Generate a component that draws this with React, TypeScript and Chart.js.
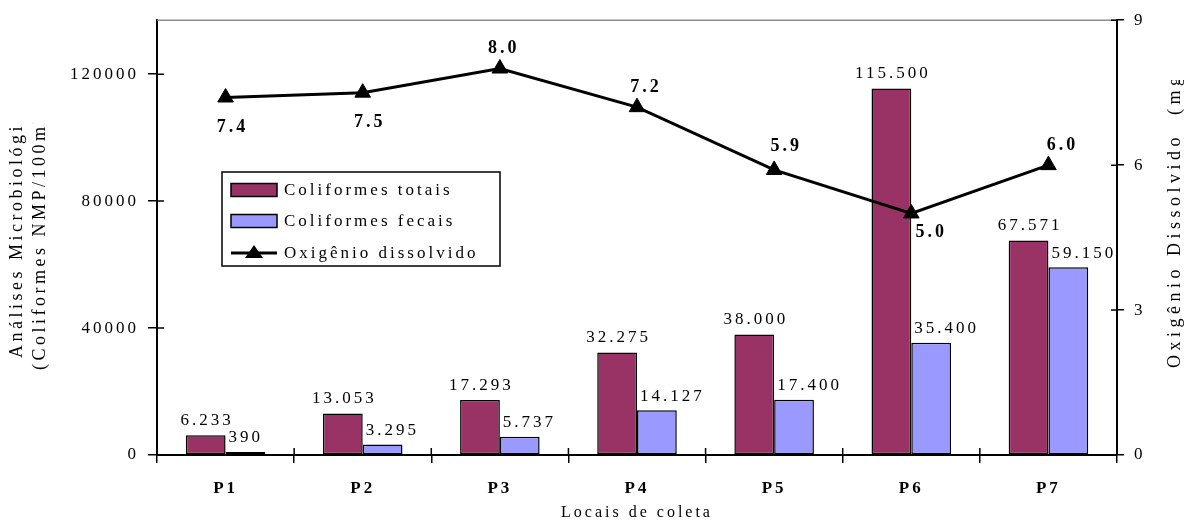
import { useEffect, useRef } from "react";
import { Chart, registerables } from "chart.js";

Chart.register(...registerables);

// ---------- data ----------
const categories = ["P1", "P2", "P3", "P4", "P5", "P6", "P7"];
const coliformesTotais = [6233, 13053, 17293, 32275, 38000, 115500, 67571];
const coliformesFecais = [390, 3295, 5737, 14127, 17400, 35400, 59150];
const oxigenioDissolvido = [7.4, 7.5, 8.0, 7.2, 5.9, 5.0, 6.0];
const leftTicks = [0, 40000, 80000, 120000];
const rightTicks = [0, 3, 6, 9];
const seriesNames = ["Coliformes totais", "Coliformes fecais", "Oxigênio dissolvido"];
const xTitle = "Locais de coleta";
const leftTitleLines = ["Análises Microbiológicas", "(Coliformes NMP/100ml)"];
const rightTitle = "Oxigênio Dissolvido  (mg/L)";

// ---------- styling ----------
const SERIF = '"Liberation Serif", "Times New Roman", serif';
const COLOR_TOTAIS = "#993366";
const COLOR_FECAIS = "#9999FF";
// label offsets for the oxygen labels (dx, dy from point)
const oxLabelOffsets: [number, number][] = [
  [7, 30], [7, 30], [4, -20], [9, -20], [12, -24], [20, 19], [14, -20],
];

const fmtThousands = (n: number) => String(n).replace(/\B(?=(\d{3})+(?!\d))/g, ".");

const decorPlugin = {
  id: "decor",
  beforeDraw(chart: any) {
    chart.ctx.letterSpacing = "3px";
  },
  afterDatasetsDraw(chart: any) {
    const ctx = chart.ctx as CanvasRenderingContext2D;
    ctx.save();
    ctx.fillStyle = "#000";
    ctx.textBaseline = "middle";
    (ctx as any).letterSpacing = "3px";
    ctx.font = `17px ${SERIF}`;
    const m0 = chart.getDatasetMeta(0);
    m0.data.forEach((bar: any, i: number) => {
      ctx.textAlign = "center";
      ctx.fillText(fmtThousands(coliformesTotais[i]), bar.x + 1.5, bar.y - 15);
    });
    const m1 = chart.getDatasetMeta(1);
    m1.data.forEach((bar: any, i: number) => {
      ctx.textAlign = "left";
      ctx.fillText(fmtThousands(coliformesFecais[i]), bar.x - bar.width / 2 + 3, bar.y - 14);
    });
    ctx.font = `bold 18px ${SERIF}`;
    const m2 = chart.getDatasetMeta(2);
    m2.data.forEach((pt: any, i: number) => {
      ctx.textAlign = "center";
      const [dx, dy] = oxLabelOffsets[i];
      ctx.fillText(oxigenioDissolvido[i].toFixed(1), pt.x + dx, pt.y + dy);
    });
    ctx.restore();
  },
  afterDraw(chart: any) {
    const ctx = chart.ctx as CanvasRenderingContext2D;
    const { left, right, top, bottom } = chart.chartArea;
    const ys = chart.scales.y;
    const y1 = chart.scales.y1;
    const xs = chart.scales.x;
    ctx.save();
    // top border
    ctx.strokeStyle = "#8c8c8c";
    ctx.lineWidth = 1.5;
    ctx.beginPath();
    ctx.moveTo(left, top);
    ctx.lineTo(right, top);
    ctx.stroke();
    // inner halves of the crossing ticks
    ctx.strokeStyle = "#000";
    ctx.lineWidth = 1.5;
    ctx.beginPath();
    leftTicks.forEach((v) => {
      const y = ys.getPixelForValue(v);
      ctx.moveTo(left, y);
      ctx.lineTo(left + 7, y);
    });
    rightTicks.forEach((v) => {
      const y = y1.getPixelForValue(v);
      ctx.moveTo(right - 6, y);
      ctx.lineTo(right, y);
    });
    const step = xs.getPixelForValue(1) - xs.getPixelForValue(0);
    for (let i = 0; i <= categories.length; i++) {
      const x = xs.getPixelForValue(i) - step / 2;
      ctx.moveTo(x, bottom);
      ctx.lineTo(x, bottom - 7);
    }
    ctx.stroke();

    // axis titles (clipped like the original text boxes)
    ctx.fillStyle = "#000";
    ctx.textBaseline = "middle";
    ctx.textAlign = "left";
    ctx.font = `18px ${SERIF}`;
    (ctx as any).letterSpacing = "3.5px";
    ctx.save();
    ctx.beginPath();
    ctx.rect(0, 123, 60, 400);
    ctx.clip();
    const leftTitleX = [17, 40];
    const leftTitleStart = [358, 370];
    leftTitleLines.forEach((t, i) => {
      ctx.save();
      ctx.translate(leftTitleX[i], leftTitleStart[i]);
      ctx.rotate(-Math.PI / 2);
      ctx.fillText(t, 0, 0);
      ctx.restore();
    });
    ctx.restore();
    ctx.save();
    ctx.beginPath();
    ctx.rect(1150, 80, 40, 400);
    ctx.clip();
    (ctx as any).letterSpacing = "4.5px";
    ctx.translate(1175, 368);
    ctx.rotate(-Math.PI / 2);
    ctx.fillText(rightTitle, 0, 0);
    ctx.restore();

    // legend
    const lx = 222, ly = 172, lw = 278, lh = 94;
    ctx.fillStyle = "#fff";
    ctx.fillRect(lx, ly, lw, lh);
    ctx.strokeStyle = "#000";
    ctx.lineWidth = 1.5;
    ctx.strokeRect(lx, ly, lw, lh);
    const rows = [190, 221, 253];
    ctx.fillStyle = COLOR_TOTAIS;
    ctx.fillRect(231, rows[0] - 6.5, 46, 13);
    ctx.strokeRect(231, rows[0] - 6.5, 46, 13);
    ctx.fillStyle = COLOR_FECAIS;
    ctx.fillRect(231, rows[1] - 6.5, 46, 13);
    ctx.strokeRect(231, rows[1] - 6.5, 46, 13);
    ctx.lineWidth = 3;
    ctx.beginPath();
    ctx.moveTo(231, rows[2]);
    ctx.lineTo(277, rows[2]);
    ctx.stroke();
    ctx.fillStyle = "#000";
    ctx.beginPath();
    ctx.moveTo(254, rows[2] - 8);
    ctx.lineTo(263, rows[2] + 5);
    ctx.lineTo(245, rows[2] + 5);
    ctx.closePath();
    ctx.fill();
    ctx.font = `17px ${SERIF}`;
    (ctx as any).letterSpacing = "3px";
    ctx.textAlign = "left";
    seriesNames.forEach((n, i) => ctx.fillText(n, 284, rows[i] + 1));
    ctx.restore();
  },
};

export default function App() {
  const ref = useRef<HTMLCanvasElement>(null);
  useEffect(() => {
    const tickFont = { family: SERIF, size: 17 };
    const chart = new Chart(ref.current as HTMLCanvasElement, {
      type: "bar",
      data: {
        labels: categories,
        datasets: [
          {
            type: "bar",
            label: seriesNames[0],
            data: coliformesTotais,
            backgroundColor: COLOR_TOTAIS,
            borderColor: "#000",
            borderWidth: 1.5,
            borderSkipped: false,
            barPercentage: 1,
            categoryPercentage: 0.58,
            yAxisID: "y",
            order: 2,
          },
          {
            type: "bar",
            label: seriesNames[1],
            data: coliformesFecais,
            backgroundColor: COLOR_FECAIS,
            borderColor: "#000",
            borderWidth: 1.5,
            borderSkipped: false,
            minBarLength: 3,
            barPercentage: 1,
            categoryPercentage: 0.58,
            yAxisID: "y",
            order: 2,
          },
          {
            type: "line",
            label: seriesNames[2],
            data: oxigenioDissolvido,
            borderColor: "#000",
            borderWidth: 3,
            backgroundColor: "#000",
            pointStyle: "triangle",
            pointRadius: 9,
            pointBackgroundColor: "#000",
            pointBorderColor: "#000",
            pointBorderWidth: 1,
            tension: 0,
            yAxisID: "y1",
            order: 1,
          },
        ] as any,
      },
      options: {
        animation: false,
        responsive: false,
        maintainAspectRatio: false,
        events: [],
        layout: { padding: { top: 17, left: 0, right: 0, bottom: 0 } },
        plugins: {
          legend: { display: false },
          tooltip: { enabled: false },
          title: { display: false },
        },
        scales: {
          x: {
            position: "bottom",
            offset: true,
            grid: {
              offset: true,
              drawOnChartArea: false,
              drawTicks: true,
              tickLength: 8,
              color: "#000",
              lineWidth: 1.5,
            },
            border: { display: true, color: "#000", width: 2 },
            ticks: {
              color: "#000",
              font: { family: SERIF, size: 17, weight: "bold" },
              padding: 15,
              maxRotation: 0,
              autoSkip: false,
            },
            title: {
              display: true,
              text: xTitle,
              color: "#000",
              font: { family: SERIF, size: 16 },
              padding: { top: 0, bottom: 1.5 },
            },
            afterFit: (s: any) => {
              s.height = 69;
            },
          },
          y: {
            position: "left",
            min: 0,
            max: 137000,
            grid: {
              drawOnChartArea: false,
              drawTicks: true,
              tickLength: 9,
              color: "#000",
              lineWidth: 1.5,
            },
            border: { display: true, color: "#000", width: 2 },
            ticks: {
              color: "#000",
              font: tickFont,
              padding: 9,
              includeBounds: false,
              callback: (v: any) => String(v),
            },
            afterBuildTicks: (s: any) => {
              s.ticks = leftTicks.map((v) => ({ value: v }));
            },
            afterFit: (s: any) => {
              s.width = 157;
            },
          },
          y1: {
            position: "right",
            min: 0,
            max: 9,
            grid: {
              drawOnChartArea: false,
              drawTicks: true,
              tickLength: 7,
              color: "#000",
              lineWidth: 1.5,
            },
            border: { display: true, color: "#000", width: 2 },
            ticks: {
              color: "#000",
              font: tickFont,
              padding: 10,
              callback: (v: any) => String(v),
            },
            afterBuildTicks: (s: any) => {
              s.ticks = rightTicks.map((v) => ({ value: v }));
            },
            afterFit: (s: any) => {
              s.width = 73;
            },
          },
        },
      } as any,
      plugins: [decorPlugin],
    });
    return () => chart.destroy();
  }, []);
  return (
    <div
      style={{
        position: "absolute",
        left: 0,
        top: 0,
        width: 1190,
        height: 524,
        background: "#fff",
      }}
    >
      <canvas ref={ref} width={1190} height={524} style={{ display: "block" }} />
    </div>
  );
}
